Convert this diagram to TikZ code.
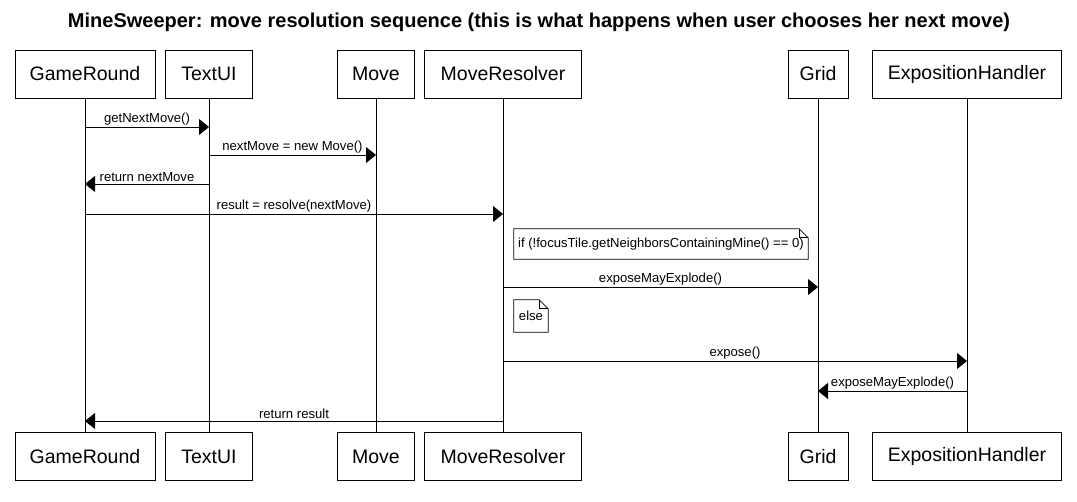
\documentclass[tikz,border=0pt]{standalone}
\usepackage{fontspec}
\setmainfont{Liberation Sans}
\usetikzlibrary{arrows.meta}
\tikzset{
  actor/.style={draw, line width=0.8pt, minimum height=48pt, inner sep=0pt, font=\fontsize{19.5}{23}\selectfont},
  msg/.style={line width=0.8pt, -{Triangle[length=10pt,width=16pt]}},
  lbl/.style={midway, above, inner sep=1.5pt, font=\fontsize{13.1}{15}\selectfont},
  memo/.style={inner sep=0pt, font=\fontsize{13.1}{15}\selectfont},
}
% メモの枠 (右上の折り返し)
\newcommand\memoframe[1]{%
  \draw[line width=0.8pt] (#1.south west) -- (#1.north west) -- ([xshift=-9pt]#1.north east)
    -- ([yshift=-9pt]#1.north east) -- (#1.south east) -- cycle;
  \draw[line width=0.6pt] ([xshift=-9pt]#1.north east) |- ([yshift=-9pt]#1.north east);}
\begin{document}
\begin{tikzpicture}[x=1pt,y=-1pt]
   \useasboundingbox (0,0) rectangle (1077,502);
   \fill[white] (0,0) rectangle (1077,502);
   % タイトル
   \node[font=\bfseries\fontsize{20}{24}\selectfont] (title) at (539,22) {MineSweeper: move resolution sequence (this is what happens when user chooses her next move)};

   % 参加者
   \node[actor, minimum width=140pt] (gr-t) at (85,74) {GameRound};
   \node[actor, minimum width=87pt] (tu-t) at (209,74) {TextUI};
   \node[actor, minimum width=77pt] (mv-t) at (376,74) {Move};
   \node[actor, minimum width=157pt] (mr-t) at (503,74) {MoveResolver};
   \node[actor, minimum width=60pt] (gd-t) at (818,74) {Grid};
   \node[actor, minimum width=189pt] (eh-t) at (967,74) {ExpositionHandler};

   \node[actor, minimum width=140pt] (gr-b) at (85,456.5) {GameRound};
   \node[actor, minimum width=87pt] (tu-b) at (209,456.5) {TextUI};
   \node[actor, minimum width=77pt] (mv-b) at (376,456.5) {Move};
   \node[actor, minimum width=157pt] (mr-b) at (503,456.5) {MoveResolver};
   \node[actor, minimum width=60pt] (gd-b) at (818,456.5) {Grid};
   \node[actor, minimum width=189pt] (eh-b) at (967,456.5) {ExpositionHandler};

   % ライフライン
   \draw[line width=0.8pt] (gr-t) -- (gr-b);
   \draw[line width=0.8pt] (tu-t) -- (tu-b);
   \draw[line width=0.8pt] (mv-t) -- (mv-b);
   \draw[line width=0.8pt] (mr-t) -- (mr-b);
   \draw[line width=0.8pt] (gd-t) -- (gd-b);
   \draw[line width=0.8pt] (eh-t) -- (eh-b);

   % メッセージ
   \draw[msg] (gr-t |- 0,127) -- node[lbl]{getNextMove()} (tu-t |- 0,127);
   \draw[msg] (tu-t |- 0,155) -- node[lbl]{nextMove = new Move()} (mv-t |- 0,155);
   \draw[msg] (tu-t |- 0,184) -- node[lbl]{return nextMove} (gr-t |- 0,184);
   \draw[msg] (gr-t |- 0,214) -- node[lbl]{result = resolve(nextMove)} (mr-t |- 0,214);

   \node[memo, minimum width=294pt, minimum height=30pt] (cond) at (661,244) {if (!focusTile.getNeighborsContainingMine() == 0)};
   \memoframe{cond}
   \draw[msg] (mr-t |- 0,287) -- node[lbl]{exposeMayExplode()} (gd-t |- 0,287);

   \node[memo, minimum width=34pt, minimum height=32pt] (alt) at (531,316) {else};
   \memoframe{alt}
   \draw[msg] (mr-t |- 0,361) -- node[lbl]{expose()} (eh-t |- 0,361);
   \draw[msg] (eh-t |- 0,391) -- node[lbl]{exposeMayExplode()} (gd-t |- 0,391);
   \draw[msg] (mr-t |- 0,421) -- node[lbl]{return result} (gr-t |- 0,421);
\end{tikzpicture}
\end{document}
